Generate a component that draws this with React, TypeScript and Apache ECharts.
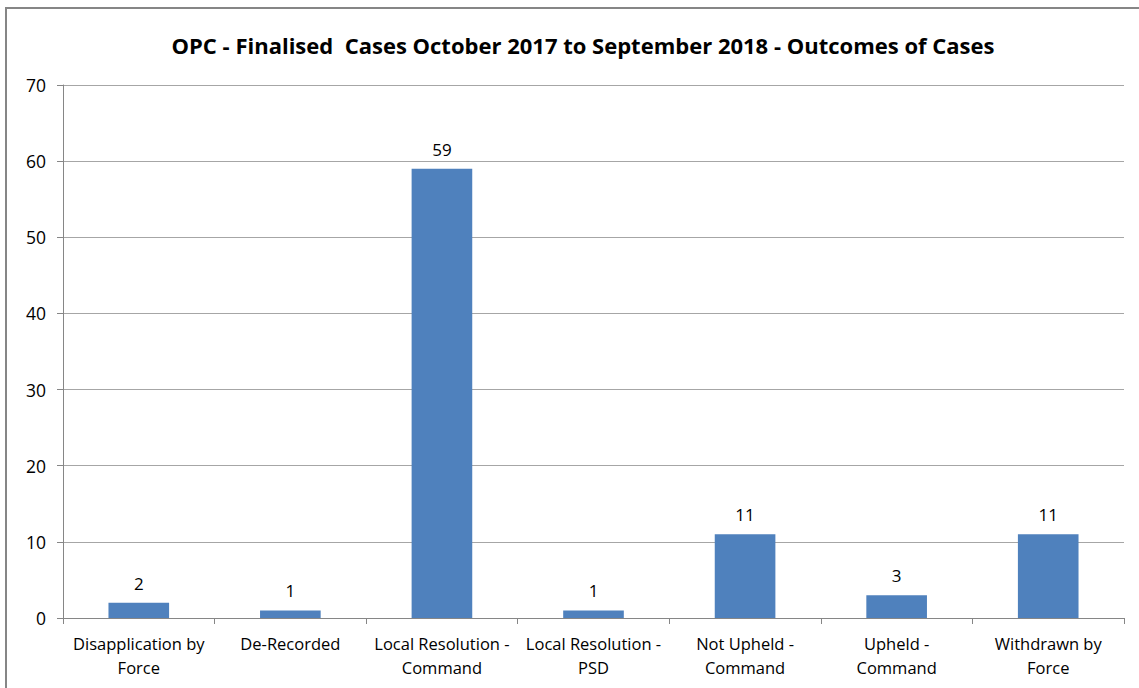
import React, { useEffect, useRef } from "react";
import * as echarts from "echarts";

const categories = [
  "Disapplication by\nForce",
  "De-Recorded",
  "Local Resolution -\nCommand",
  "Local Resolution -\nPSD",
  "Not Upheld -\nCommand",
  "Upheld -\nCommand",
  "Withdrawn by\nForce",
];
const values = [2, 1, 59, 1, 11, 3, 11];
const titleText = "OPC - Finalised  Cases October 2017 to September 2018 - Outcomes of Cases";

export default function App() {
  const ref = useRef<HTMLDivElement>(null);
  useEffect(() => {
    const chart = echarts.init(ref.current!, null, { renderer: "svg" });
    chart.setOption({
      animation: false,
      backgroundColor: "#ffffff",
      title: {
        text: titleText,
        left: 578,
        top: 29,
        textAlign: "center",
        textStyle: { fontFamily: "Open Sans", fontWeight: "bold", fontSize: 22, color: "#000" },
      },
      graphic: [
        {
          type: "rect",
          shape: { x: 6, y: 8, width: 1150, height: 700 },
          style: { fill: "none", stroke: "#868686", lineWidth: 2 },
          silent: true,
        },
      ],
      grid: { left: 63, right: 15, top: 85, bottom: 70, containLabel: false },
      xAxis: {
        type: "category",
        data: categories,
        axisLine: { lineStyle: { color: "#868686", width: 1 } },
        axisTick: { show: true, length: 6, lineStyle: { color: "#868686" } },
        axisLabel: {
          interval: 0,
          color: "#000",
          fontFamily: "Open Sans",
          fontSize: 16.5,
          lineHeight: 24,
          margin: 13,
        },
      },
      yAxis: {
        type: "value",
        min: 0,
        max: 70,
        interval: 10,
        axisLine: { show: true, lineStyle: { color: "#868686", width: 1 } },
        axisTick: { show: true, length: 6, lineStyle: { color: "#868686" } },
        axisLabel: { color: "#000", fontFamily: "Open Sans", fontSize: 17.5, margin: 17 },
        splitLine: { show: true, lineStyle: { color: "#a6a6a6", width: 1 } },
      },
      series: [
        {
          type: "bar",
          data: values,
          barWidth: "40%",
          itemStyle: { color: "#4f81bd" },
          label: {
            show: true,
            position: "top",
            distance: 11,
            color: "#000",
            fontFamily: "Open Sans",
            fontSize: 17,
          },
        },
      ],
    });
    return () => chart.dispose();
  }, []);
  return (
    <div
      ref={ref}
      style={{ position: "fixed", left: 0, top: 0, width: 1139, height: 688 }}
    />
  );
}
